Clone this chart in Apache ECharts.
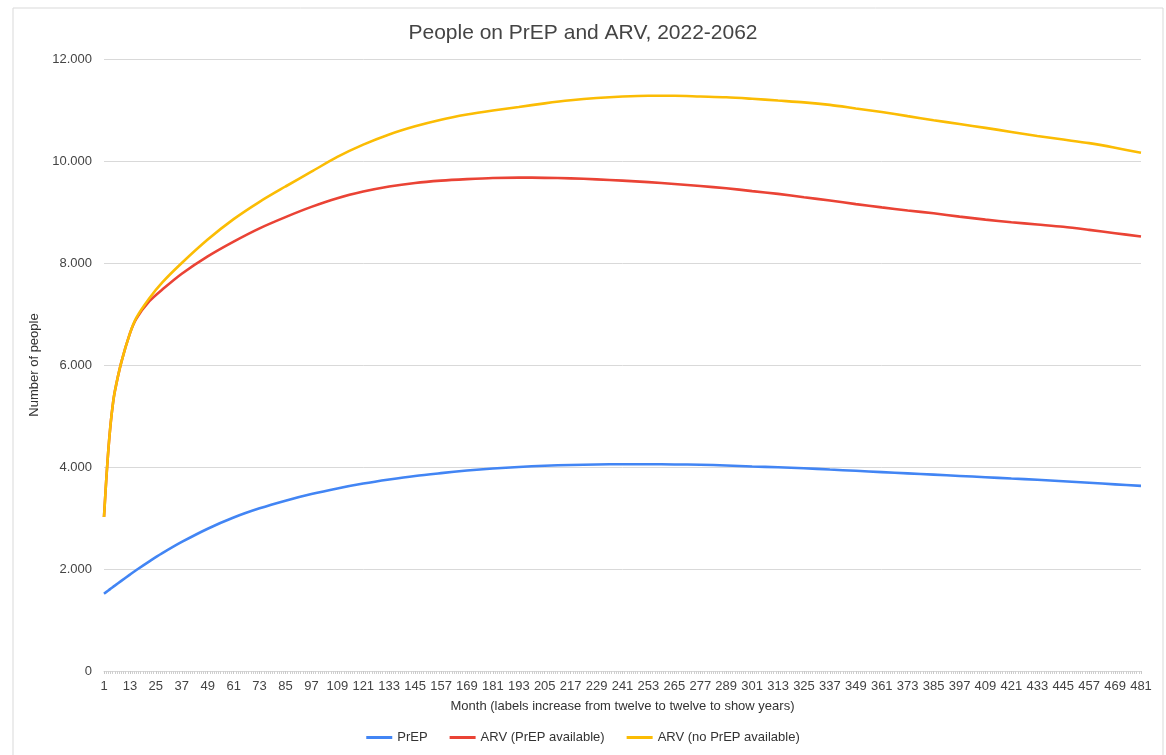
<!DOCTYPE html>
<html><head><meta charset="utf-8">
<script src="https://cdn.jsdelivr.net/npm/echarts@6/dist/echarts.min.js"></script>
<style>html,body{margin:0;padding:0;background:#fff}#c{width:1166px;height:755px}</style>
</head><body><div id="c"></div>
<script>
var months = [1,2,3,4,5,6,9,13,16,22,28,37,49,61,73,85,97,109,121,133,145,157,169,181,193,205,217,229,241,253,265,277,289,301,313,325,337,349,361,373,385,397,409,421,433,445,457,469,481];
var prep = [1515,1547,1579,1611,1643,1674,1768,1890,1980,2150,2310,2530,2790,3010,3190,3340,3470,3580,3675,3755,3825,3880,3930,3970,4000,4025,4040,4050,4055,4055,4050,4045,4030,4010,3995,3975,3950,3925,3900,3875,3850,3825,3800,3775,3750,3720,3690,3660,3630];
var arvPrep = [3020,3720,4330,4820,5200,5480,6050,6620,6910,7250,7480,7790,8130,8420,8680,8900,9100,9270,9400,9500,9570,9615,9645,9668,9675,9670,9660,9640,9615,9585,9550,9510,9465,9410,9355,9290,9225,9155,9090,9030,8975,8910,8850,8800,8755,8710,8650,8585,8520];
var arvNoPrep = [3020,3720,4330,4820,5200,5480,6050,6620,6930,7310,7620,8000,8460,8860,9200,9500,9790,10080,10320,10520,10680,10810,10910,10990,11060,11130,11190,11235,11265,11280,11280,11265,11250,11220,11185,11150,11100,11030,10960,10880,10800,10725,10650,10570,10490,10420,10350,10260,10160];
var seriesNames = ['PrEP','ARV (PrEP available)','ARV (no PrEP available)'];
var colors = ['#4285F4','#EA4335','#FBBC04'];

function pairs(vals){ return months.map(function(m,i){ return [m-1, vals[i]]; }); }
function fmt(v){ return String(v).replace(/\B(?=(\d{3})+(?!\d))/g, '.'); }

var chart = echarts.init(document.getElementById('c'), null, {renderer:'canvas'});
var font = 'Arial, "Liberation Sans", sans-serif';
function line(i, vals){
  return {name:seriesNames[i],type:'line',data:pairs(vals),smooth:0.3,showSymbol:false,
    lineStyle:{width:2.6,color:colors[i]},itemStyle:{color:colors[i]}};
}
chart.setOption({
  animation:false,
  backgroundColor:'#fff',
  textStyle:{fontFamily:font},
  graphic:[{type:'rect',shape:{x:13,y:8,width:1150,height:780},style:{fill:'none',stroke:'#d9d9d9',lineWidth:1},silent:true}],
  title:{text:'People on PrEP and ARV, 2022-2062',left:'center',top:18,textStyle:{fontSize:21,fontWeight:'normal',color:'#444',fontFamily:font}},
  legend:{bottom:6,left:'center',itemWidth:26,itemHeight:3,itemGap:22,icon:'rect',textStyle:{fontSize:13,color:'#333',fontFamily:font},data:seriesNames},
  grid:{left:104,right:25,top:59,bottom:84},
  xAxis:{type:'value',min:0,max:480,interval:12,
    name:'Month (labels increase from twelve to twelve to show years)',nameLocation:'middle',nameGap:29,
    nameTextStyle:{fontSize:13,color:'#333',fontFamily:font},
    axisLine:{show:true,lineStyle:{color:'#d6d6d6',width:1}},
    axisTick:{show:true,length:3,lineStyle:{color:'#c8c8c8'}},
    minorTick:{show:true,splitNumber:12,length:3,lineStyle:{color:'#cfcfcf'}},
    splitLine:{show:false},
    axisLabel:{fontSize:13,color:'#444',margin:9,showMaxLabel:true,showMinLabel:true,formatter:function(v){return String(v+1);}}
  },
  yAxis:{type:'value',min:0,max:12000,interval:2000,
    name:'Number of people',nameLocation:'middle',nameGap:58,nameRotate:90,
    nameTextStyle:{fontSize:13,color:'#333',fontFamily:font},
    axisLine:{show:false},axisTick:{show:false},
    splitLine:{lineStyle:{color:'#d9d9d9',width:1}},
    axisLabel:{fontSize:13,color:'#444',margin:12,formatter:function(v){return fmt(v);}}
  },
  series:[line(0,prep),line(1,arvPrep),line(2,arvNoPrep)]
});
</script></body></html>
